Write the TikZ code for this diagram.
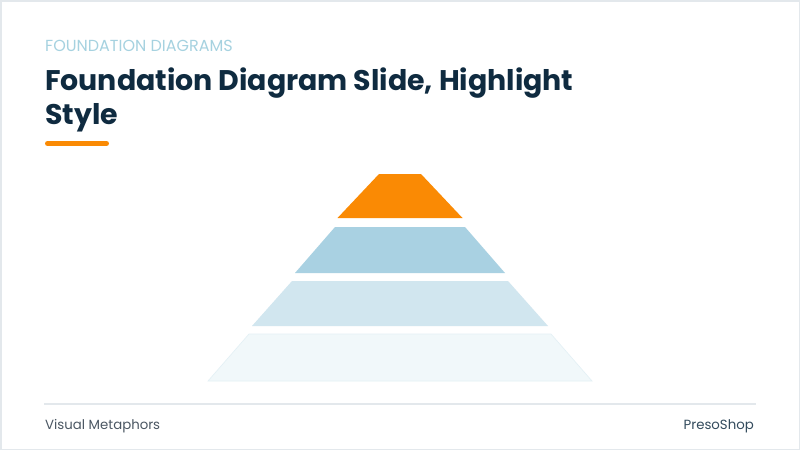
\documentclass[tikz,border=0pt]{standalone}
\usepackage{fontspec}
\setmainfont{Poppins}
\usetikzlibrary{positioning}
\definecolor{navy}{HTML}{0F2B40}
\definecolor{kicker}{HTML}{A6D2E0}
\definecolor{hlorange}{HTML}{FA8A04}
\definecolor{tierb}{HTML}{A9D1E2}
\definecolor{tierc}{HTML}{D1E6EF}
\definecolor{tierd}{HTML}{F1F8FA}
\definecolor{rule}{HTML}{E3E8EC}
\definecolor{foot}{HTML}{4B5763}
\tikzset{
  kicker/.style={anchor=base west, inner sep=0, font=\fontsize{16}{18}\selectfont, text=kicker},
  headline/.style={anchor=base west, inner sep=0, font=\fontsize{28.4}{32}\selectfont\bfseries, text=navy},
  footer/.style={inner sep=0, font=\fontsize{13.3}{15}\selectfont, text=foot}
}
\begin{document}
\begin{tikzpicture}[x=1pt,y=-1pt]
        \useasboundingbox (0,0) rectangle (800,450);
        % slide frame
        \fill[white] (0,0) rectangle (800,450);
        \draw[rule, line width=1.5pt] (0.75,0.75) rectangle (799.25,449.25);

        % heading
        \node[kicker] (kick) at (45,51.7) {FOUNDATION DIAGRAMS};
        \node[headline] (title) at (45,90.5) {Foundation Diagram Slide, Highlight};
        \node[headline] (title2) at (45,124.5) {Style};
        \draw[hlorange, line width=5pt, line cap=round] (47.5,143.5) -- (106.5,143.5);

        % pyramid tiers: top y / bottom y / top half width / bottom half width / colour
        \foreach \yt/\yb/\wt/\wb/\col in {174/218/21/62.5/hlorange, 227/273/65/105/tierb,
            281/326/108/148/tierc, 334/381/151/192/tierd} {
            \fill[\col] (400-\wt,\yt) -- (400+\wt,\yt) -- (400+\wb,\yb) -- (400-\wb,\yb) -- cycle;
        }
        \draw[tierc!60, line width=0.6pt] (400-151,334) -- (400+151,334) -- (400+192,381) -- (400-192,381) -- cycle;

        % footer
        \draw[rule, line width=2pt] (44,403.5) -- (756,403.5);
        \node[footer, anchor=base west] (metaph) at (45,429.5) {Visual Metaphors};
        \node[footer, anchor=base east, text=navy!85] (brand) at (754,429) {PresoShop};
\end{tikzpicture}
\end{document}
